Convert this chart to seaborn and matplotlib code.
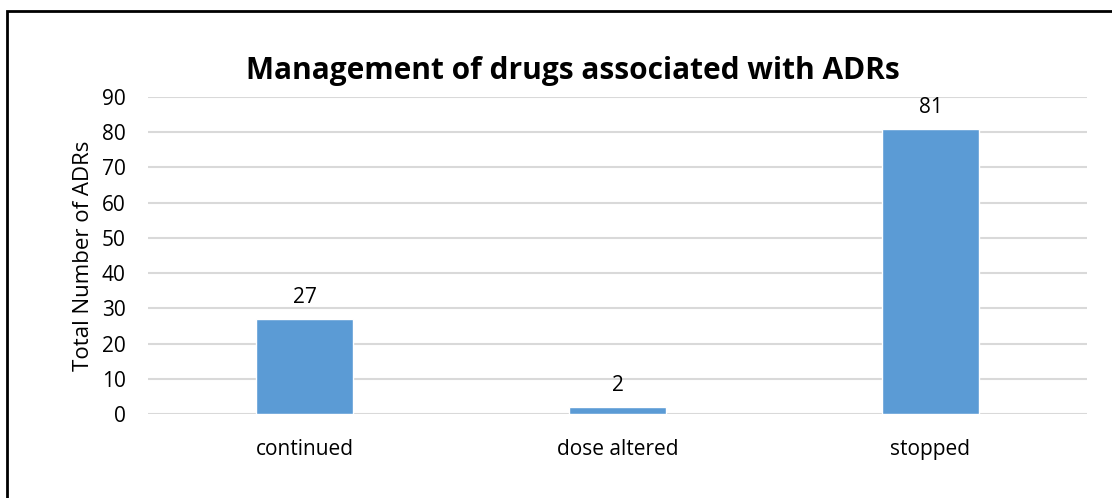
import matplotlib
matplotlib.use("Agg")
import matplotlib.pyplot as plt
import seaborn as sns
import pandas as pd
from matplotlib.patches import Rectangle

# data
categories = ['continued', 'dose altered', 'stopped']
adr_counts = [27, 2, 81]

df = pd.DataFrame({'management': categories, 'count': adr_counts})

sns.set_style("white")
plt.rcParams['font.family'] = ['Open Sans', 'DejaVu Sans']
for k in ['text.color', 'axes.labelcolor', 'xtick.color', 'ytick.color']:
    plt.rcParams[k] = 'black'

fig = plt.figure(figsize=(11.12, 4.98), dpi=100)
ax = fig.add_axes([0.1331, 0.1687, 0.8444, 0.6365])

sns.barplot(data=df, x='management', y='count', color='#5B9BD5',
            width=0.31, saturation=1, ax=ax, zorder=3)

# value labels on top of the bars
for cont in ax.containers:
    ax.bar_label(cont, padding=8, fontsize=15, color='black')

ax.set_ylim(0, 90)
ax.set_xlim(-0.5, 2.5)
ax.set_yticks(range(0, 91, 10))
ax.yaxis.grid(True, color='#D9D9D9', lw=1.5, zorder=0)
ax.xaxis.grid(False)
for s in ax.spines.values():
    s.set_visible(False)
ax.tick_params(axis='y', length=0, pad=16, labelsize=15)
ax.tick_params(axis='x', length=0, pad=18, labelsize=15)
ax.set_xlabel('')
ax.set_ylabel('Total Number of ADRs', fontsize=16, labelpad=6)

fig.text(0.515, 0.857, 'Management of drugs associated with ADRs',
         ha='center', va='center', fontsize=21.5, fontweight='bold')

# outer frame, cut off at right and bottom like the reference
fig.patches.append(Rectangle((0.0067, -0.05), 1.2, 1.027, transform=fig.transFigure,
                             fill=False, edgecolor='black', lw=2))

fig.savefig('out.png', dpi=100)
